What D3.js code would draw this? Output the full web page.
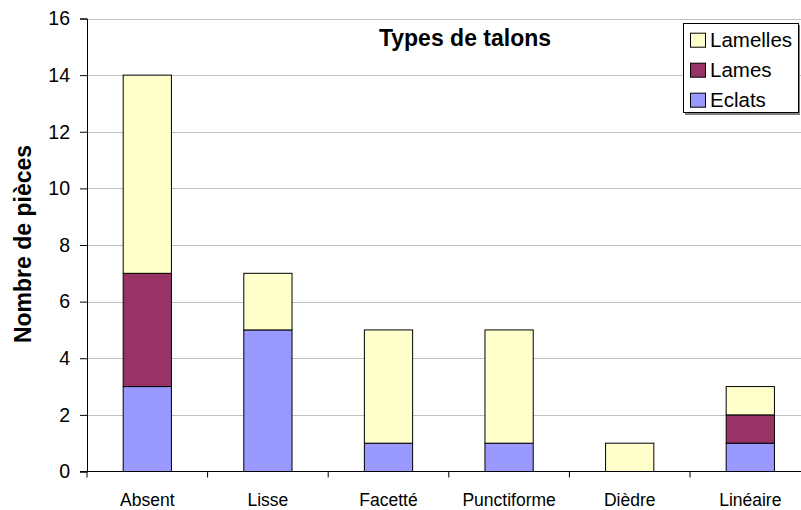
<!DOCTYPE html>
<html>
<head>
<meta charset="utf-8">
<script src="https://cdn.jsdelivr.net/npm/d3@7"></script>
<style>
  body { margin: 0; background: #fff; }
  svg { display: block; font-family: "Liberation Sans", Arial, sans-serif; }
</style>
</head>
<body>
<svg id="chart" width="801" height="510"></svg>
<script>
// Types de talons : nombre de pièces par type et par catégorie
const categories = ["Absent", "Lisse", "Facetté", "Punctiforme", "Dièdre", "Linéaire"];
const eclats   = [3, 5, 1, 1, 0, 1];
const lames    = [4, 0, 0, 0, 0, 1];
const lamelles = [7, 2, 4, 4, 1, 1];
const seriesNames = ["Eclats", "Lames", "Lamelles"];
const seriesColors = ["#9999FF", "#993366", "#FFFFCC"];
const yTicks = [0, 2, 4, 6, 8, 10, 12, 14, 16];

const svg = d3.select("#chart");
const plotLeft = 87, plotTop = 18.5, plotBottom = 471.5, band = 120.6;

const x = d3.scaleBand().domain(categories)
  .range([plotLeft, plotLeft + band * categories.length])
  .paddingInner(0.6).paddingOuter(0.3);
const y = d3.scaleLinear().domain([0, 16]).range([plotBottom, plotTop]);

// gridlines
svg.append("g").selectAll("line").data(yTicks.filter(d => d > 0)).join("line")
  .attr("x1", plotLeft).attr("x2", 801)
  .attr("y1", d => Math.round(y(d)) + 0.5).attr("y2", d => Math.round(y(d)) + 0.5)
  .attr("stroke", "#c0c0c0").attr("stroke-width", 1);

// stacked bars
const rows = categories.map((c, i) => ({ cat: c, Eclats: eclats[i], Lames: lames[i], Lamelles: lamelles[i] }));
const stack = d3.stack().keys(seriesNames)(rows);
svg.append("g").selectAll("g").data(stack).join("g")
  .attr("fill", (d, i) => seriesColors[i])
  .selectAll("rect").data(d => d.filter(p => p[1] > p[0])).join("rect")
  .attr("x", d => x(d.data.cat))
  .attr("width", x.bandwidth())
  .attr("y", d => y(d[1]))
  .attr("height", d => y(d[0]) - y(d[1]))
  .attr("stroke", "#000").attr("stroke-width", 1);

// y axis
const yAxis = d3.axisLeft(y).tickValues(yTicks).tickSize(7).tickPadding(10);
const gy = svg.append("g").attr("transform", `translate(${plotLeft},0)`).call(yAxis);
gy.select(".domain").attr("stroke", "#000");
gy.selectAll(".tick line").attr("stroke", "#000");
gy.selectAll(".tick text").attr("font-size", 19.5).attr("fill", "#000")
  .attr("font-family", "Liberation Sans, Arial, sans-serif");

// x axis with ticks at category boundaries
svg.append("line").attr("x1", plotLeft - 7).attr("x2", 801)
  .attr("y1", plotBottom).attr("y2", plotBottom).attr("stroke", "#000");
const bounds = d3.range(categories.length + 1).map(i => plotLeft + i * band);
svg.append("g").selectAll("line").data(bounds).join("line")
  .attr("x1", d => d).attr("x2", d => d)
  .attr("y1", plotBottom).attr("y2", plotBottom + 6).attr("stroke", "#000");
svg.append("g").selectAll("text").data(categories).join("text")
  .attr("x", d => x(d) + x.bandwidth() / 2)
  .attr("y", 506)
  .attr("text-anchor", "middle").attr("font-size", 17.5).attr("fill", "#000")
  .text(d => d);

// axis title
svg.append("text")
  .attr("transform", "translate(31,244) rotate(-90)")
  .attr("text-anchor", "middle").attr("font-size", 23).attr("font-weight", "bold")
  .text("Nombre de pièces");

// chart title
svg.append("text").attr("x", 465).attr("y", 46)
  .attr("text-anchor", "middle").attr("font-size", 23).attr("font-weight", "bold")
  .text("Types de talons");

// legend
const lg = svg.append("g");
lg.append("rect").attr("x", 685).attr("y", 25).attr("width", 115).attr("height", 90)
  .attr("fill", "#808080");
lg.append("rect").attr("x", 683.5).attr("y", 23.5).attr("width", 115).attr("height", 89)
  .attr("fill", "#fff").attr("stroke", "#000");
const legendOrder = [2, 1, 0];
legendOrder.forEach((si, k) => {
  const base = 46.7 + k * 30;
  lg.append("rect").attr("x", 690.5).attr("y", base - 13.5).attr("width", 15).attr("height", 14)
    .attr("fill", seriesColors[si]).attr("stroke", "#000");
  lg.append("text").attr("x", 710).attr("y", base)
    .attr("font-size", 20.5).attr("fill", "#000").text(seriesNames[si]);
});
</script>
</body>
</html>
